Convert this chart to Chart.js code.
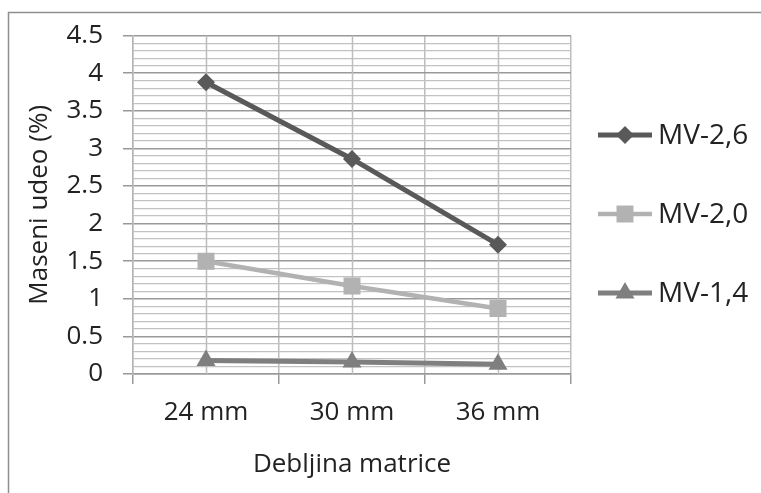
<!DOCTYPE html>
<html>
<head>
<meta charset="utf-8">
<script src="https://cdn.jsdelivr.net/npm/chart.js@4/dist/chart.umd.min.js"></script>
<style>
  html, body { margin: 0; padding: 0; background: #fff; }
  #wrap { width: 761px; height: 493px; position: relative; }
</style>
</head>
<body>
<div id="wrap"><canvas id="c" width="761" height="493"></canvas></div>
<script>
// Matrix thickness categories
const categories = ['24 mm', '30 mm', '36 mm'];

// Mass fraction (%) per fraction size
const mv26 = [3.88, 2.86, 1.72];
const mv20 = [1.50, 1.17, 0.87];
const mv14 = [0.18, 0.16, 0.13];

const seriesNames = ['MV-2,6', 'MV-2,0', 'MV-1,4'];

const yTitle = 'Maseni udeo (%)';
const xTitle = 'Debljina matrice';

const FONT = "'Open Sans', 'DejaVu Sans', sans-serif";
const TEXT = '#222222';

function isMajor(v) { return Math.round(v * 10) % 5 === 0; }

// Outer frame of the chart
const framePlugin = {
  id: 'frame',
  beforeDraw(chart) {
    const ctx = chart.ctx;
    ctx.save();
    ctx.fillStyle = '#ffffff';
    ctx.fillRect(0, 0, chart.width, chart.height);
    ctx.strokeStyle = '#8f8f8f';
    ctx.lineWidth = 1.5;
    ctx.strokeRect(8.5, 12.5, chart.width + 20, chart.height + 20);
    ctx.restore();
  }
};

// Vertical grid lines through each category centre
const centreLines = {
  id: 'centreLines',
  beforeDatasetsDraw(chart) {
    const { ctx, chartArea, scales } = chart;
    ctx.save();
    ctx.strokeStyle = '#bdbdbd';
    ctx.lineWidth = 1.5;
    categories.forEach((_, i) => {
      const x = Math.round(scales.x.getPixelForValue(i)) + 0.5;
      ctx.beginPath();
      ctx.moveTo(x, chartArea.top);
      ctx.lineTo(x, chartArea.bottom);
      ctx.stroke();
    });
    ctx.restore();
  }
};

function drawMarker(ctx, style, x, y, r) {
  ctx.beginPath();
  if (style === 'rectRot') {
    ctx.moveTo(x, y - r); ctx.lineTo(x + r, y); ctx.lineTo(x, y + r); ctx.lineTo(x - r, y);
  } else if (style === 'rect') {
    const s = r * Math.SQRT1_2;
    ctx.rect(x - s, y - s, 2 * s, 2 * s);
  } else {
    ctx.moveTo(x, y - r);
    ctx.lineTo(x + r * Math.sin(Math.PI / 3), y + r * 0.5);
    ctx.lineTo(x - r * Math.sin(Math.PI / 3), y + r * 0.5);
  }
  ctx.closePath();
  ctx.fill();
}

// Legend on the right: line segment with marker, then the series name
const sideLegend = {
  id: 'sideLegend',
  afterDraw(chart, args, opts) {
    const ctx = chart.ctx;
    ctx.save();
    chart.data.datasets.forEach((ds, i) => {
      const y = opts.top + i * opts.spacing;
      ctx.strokeStyle = ds.borderColor;
      ctx.lineWidth = ds.borderWidth;
      ctx.beginPath();
      ctx.moveTo(opts.left, y);
      ctx.lineTo(opts.left + opts.length, y);
      ctx.stroke();
      ctx.fillStyle = ds.pointBackgroundColor;
      drawMarker(ctx, ds.pointStyle, opts.left + opts.length / 2, y, ds.pointRadius);
      ctx.fillStyle = TEXT;
      ctx.font = opts.font;
      ctx.textBaseline = 'middle';
      ctx.textAlign = 'left';
      ctx.fillText(ds.label, opts.left + opts.length + 6, y + 1);
    });
    ctx.restore();
  }
};

function series(label, data, color, style, radius, width) {
  return {
    label, data,
    borderColor: color,
    backgroundColor: color,
    pointBackgroundColor: color,
    pointBorderColor: color,
    pointBorderWidth: 0,
    pointStyle: style,
    pointRadius: radius,
    borderWidth: width,
    tension: 0
  };
}

new Chart(document.getElementById('c'), {
  type: 'line',
  data: {
    labels: categories,
    datasets: [
      series(seriesNames[0], mv26, '#595959', 'rectRot', 9, 5),
      series(seriesNames[1], mv20, '#b2b2b2', 'rect', 12, 4.5),
      series(seriesNames[2], mv14, '#7f7f7f', 'triangle', 11, 5)
    ]
  },
  plugins: [framePlugin, centreLines, sideLegend],
  options: {
    responsive: false,
    animation: false,
    events: [],
    layout: { padding: { left: 0, right: 190, top: 33, bottom: 0 } },
    plugins: {
      legend: { display: false },
      tooltip: { enabled: false },
      sideLegend: { left: 598, length: 54, top: 135, spacing: 79, font: '28px ' + FONT }
    },
    scales: {
      x: {
        type: 'category',
        offset: true,
        grid: {
          offset: true,
          color: '#bdbdbd',
          lineWidth: 1.5,
          tickLength: 10,
          tickColor: '#9a9a9a'
        },
        border: { color: '#9a9a9a', width: 1.5 },
        ticks: {
          color: TEXT,
          font: { family: FONT, size: 26 },
          padding: 13,
          maxRotation: 0
        },
        title: {
          display: true,
          text: xTitle,
          color: TEXT,
          font: { family: FONT, size: 26 },
          padding: { top: 0, bottom: 13 }
        },
        afterFit(scale) { scale.height = 119; }
      },
      y: {
        min: 0,
        max: 4.5,
        grid: {
          color: (c) => isMajor(c.tick.value) ? '#999999' : '#c2c2c2',
          lineWidth: (c) => isMajor(c.tick.value) ? 1.5 : 1.2,
          tickLength: 10,
          tickColor: (c) => isMajor(c.tick.value) ? '#999999' : 'rgba(0,0,0,0)'
        },
        border: { color: '#b5b5b5', width: 1.5 },
        ticks: {
          stepSize: 0.1,
          autoSkip: false,
          color: TEXT,
          font: { family: FONT, size: 26 },
          padding: 20,
          callback: (v) => isMajor(v) ? String(Math.round(v * 10) / 10) : ''
        },
        title: {
          display: true,
          text: yTitle,
          color: TEXT,
          font: { family: FONT, size: 26 },
          padding: { top: 24, bottom: 0 }
        },
        afterFit(scale) { scale.width = 133; }
      }
    }
  }
});
</script>
</body>
</html>
